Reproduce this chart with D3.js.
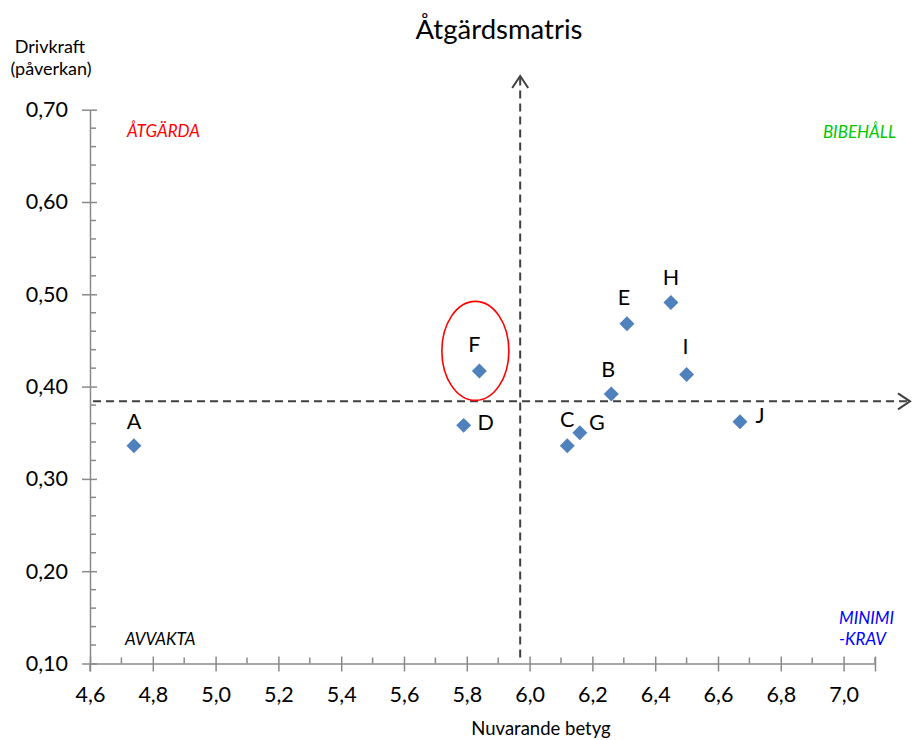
<!DOCTYPE html>
<html>
<head>
<meta charset="utf-8">
<script src="https://cdn.jsdelivr.net/npm/d3@7"></script>
<style>
  html, body { margin: 0; padding: 0; background: #fff; }
  svg { display: block; font-family: Lato, "Open Sans", sans-serif; }
</style>
</head>
<body>
<svg id="chart" width="913" height="740"></svg>
<script>
// Åtgärdsmatris: current grade (x) against driving force (y)
const names   = ["A", "B", "C", "D", "E", "F", "G", "H", "I", "J"];
const betyg   = [4.74, 6.26, 6.12, 5.79, 6.31, 5.84, 6.16, 6.45, 6.50, 6.67];
const drivkraft = [0.336, 0.392, 0.336, 0.358, 0.468, 0.417, 0.350, 0.491, 0.413, 0.362];

// quadrant dividers
const dividerX = 5.97;
const dividerY = 0.384;

const xTicks = [4.6, 4.8, 5.0, 5.2, 5.4, 5.6, 5.8, 6.0, 6.2, 6.4, 6.6, 6.8, 7.0];
const yTicks = [0.10, 0.20, 0.30, 0.40, 0.50, 0.60, 0.70];
const highlighted = "F";

// label offsets (px) from each marker
const labelOffset = {
  A: [0, -24], B: [-3, -25], C: [0, -26], D: [22, -3], E: [-3, -27],
  F: [-5, -27], G: [17, -10], H: [0, -25], I: [-1, -28], J: [20, -6]
};

const svg = d3.select("#chart");
const x = d3.scaleLinear().domain([4.6, 7.1]).range([90, 875]);
const y = d3.scaleLinear().domain([0.10, 0.70]).range([663.5, 109.7]);
const axisColor = "#8a8a8a";
const fmtX = d => d3.format(".1f")(d).replace(".", ",");
const fmtY = d => d3.format(".2f")(d).replace(".", ",");

// minor ticks (inside)
const xMinor = d3.range(47, 72).map(v => v / 10).filter(v => Math.round(v * 10) % 2 === 1);
svg.append("g").selectAll("line").data(xMinor).join("line")
  .attr("x1", d => x(d)).attr("x2", d => x(d))
  .attr("y1", y(0.10)).attr("y2", y(0.10) - 6)
  .attr("stroke", axisColor).attr("stroke-width", 1.5);
const yMinor = d3.range(10, 70, 2).map(v => v / 100).filter(v => Math.round(v * 100) % 10 !== 0);
svg.append("g").selectAll("line").data(yMinor).join("line")
  .attr("x1", x(4.6)).attr("x2", x(4.6) + 6)
  .attr("y1", d => y(d)).attr("y2", d => y(d))
  .attr("stroke", axisColor).attr("stroke-width", 1.5);

// x axis
const gx = svg.append("g").attr("transform", `translate(0,${y(0.10)})`)
  .call(d3.axisBottom(x).tickValues(xTicks.concat([7.1])).tickSize(8).tickSizeOuter(0)
    .tickFormat(d => d > 7.05 ? "" : fmtX(d)));
gx.select(".domain").attr("stroke", axisColor).attr("stroke-width", 1.5);
gx.selectAll(".tick line").attr("stroke", axisColor).attr("stroke-width", 1.5).attr("y1", -7).attr("y2", 8);
gx.selectAll(".tick text").attr("font-family", "Lato").attr("font-size", 21.5).attr("fill", "#000").attr("dy", "0.71em").attr("y", 23);

// y axis
const gy = svg.append("g").attr("transform", `translate(${x(4.6)},0)`)
  .call(d3.axisLeft(y).tickValues(yTicks).tickSize(8).tickSizeOuter(0).tickFormat(fmtY));
gy.select(".domain").attr("stroke", axisColor).attr("stroke-width", 1.5);
gy.selectAll(".tick line").attr("stroke", axisColor).attr("stroke-width", 1.5).attr("x1", 7).attr("x2", -8);
gy.selectAll(".tick text").attr("font-family", "Lato").attr("font-size", 21.5).attr("fill", "#000").attr("x", -22);
// y axis extends a little below the x axis
svg.append("line").attr("x1", x(4.6)).attr("x2", x(4.6)).attr("y1", y(0.10)).attr("y2", y(0.10) + 8)
  .attr("stroke", axisColor).attr("stroke-width", 1.5);

// quadrant divider lines with open arrowheads
const dashColor = "#404040";
svg.append("line")
  .attr("x1", x(4.6) + 3).attr("x2", 910)
  .attr("y1", y(dividerY)).attr("y2", y(dividerY))
  .attr("stroke", dashColor).attr("stroke-width", 2).attr("stroke-dasharray", "8,5");
svg.append("path")
  .attr("d", `M${910 - 12},${y(dividerY) - 8} L910,${y(dividerY)} L${910 - 12},${y(dividerY) + 8}`)
  .attr("fill", "none").attr("stroke", dashColor).attr("stroke-width", 2);
svg.append("line")
  .attr("x1", x(dividerX)).attr("x2", x(dividerX))
  .attr("y1", y(0.10) - 6).attr("y2", 76)
  .attr("stroke", dashColor).attr("stroke-width", 2).attr("stroke-dasharray", "8,5");
svg.append("path")
  .attr("d", `M${x(dividerX) - 8},${76 + 12} L${x(dividerX)},76 L${x(dividerX) + 8},${76 + 12}`)
  .attr("fill", "none").attr("stroke", dashColor).attr("stroke-width", 2);

// quadrant names
const quad = svg.append("g").attr("font-family", "Lato").attr("font-style", "italic").attr("font-size", 17);
quad.append("text").attr("x", 127).attr("y", 137).attr("fill", "#ff0000").text("ÅTGÄRDA");
quad.append("text").attr("x", 896).attr("y", 138).attr("text-anchor", "end").attr("fill", "#00c800").text("BIBEHÅLL");
quad.append("text").attr("x", 125).attr("y", 645).attr("fill", "#000").text("AVVAKTA");
quad.append("text").attr("x", 839).attr("y", 624).attr("fill", "#0000ff").text("MINIMI");
quad.append("text").attr("x", 839).attr("y", 645).attr("fill", "#0000ff").text("-KRAV");

// points
const pts = names.map((n, i) => ({ n, bx: betyg[i], dy: drivkraft[i] }));
const sym = d3.symbol(d3.symbolSquare, 112);
svg.append("g").selectAll("path").data(pts).join("path")
  .attr("d", sym)
  .attr("transform", d => `translate(${x(d.bx)},${y(d.dy)}) rotate(45)`)
  .attr("fill", "#4f81bd");
svg.append("g").selectAll("text").data(pts).join("text")
  .attr("x", d => x(d.bx) + labelOffset[d.n][0])
  .attr("y", d => y(d.dy) + labelOffset[d.n][1])
  .attr("dy", "0.36em")
  .attr("text-anchor", "middle")
  .attr("font-family", "Lato").attr("font-size", 21.5).attr("fill", "#000")
  .text(d => d.n);

// highlight ring
const hp = pts.find(d => d.n === highlighted);
svg.append("ellipse")
  .attr("cx", x(hp.bx) - 4).attr("cy", y(hp.dy) - 20)
  .attr("rx", 33.5).attr("ry", 49.5)
  .attr("fill", "none").attr("stroke", "#ff0000").attr("stroke-width", 1.6);

// titles
svg.append("text").attr("x", 499).attr("y", 39).attr("text-anchor", "middle")
  .attr("font-family", "Lato").attr("font-size", 27.5).text("Åtgärdsmatris");
svg.append("text").attr("x", 50).attr("y", 53).attr("text-anchor", "middle")
  .attr("font-family", "Lato").attr("font-size", 18).text("Drivkraft");
svg.append("text").attr("x", 51).attr("y", 75).attr("text-anchor", "middle")
  .attr("font-family", "Lato").attr("font-size", 18).text("(påverkan)");
svg.append("text").attr("x", 541).attr("y", 735).attr("text-anchor", "middle")
  .attr("font-family", "Lato").attr("font-size", 18.5).text("Nuvarande betyg");
</script>
</body>
</html>
